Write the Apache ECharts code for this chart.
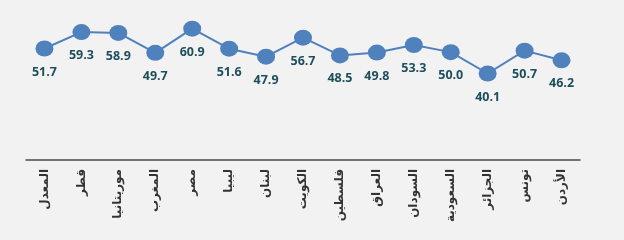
<!DOCTYPE html>
<html><head><meta charset="utf-8">
<script src="https://cdn.jsdelivr.net/npm/echarts@6/dist/echarts.min.js"></script>
<style>html,body{margin:0;padding:0;background:#f2f2f2}#c{width:624px;height:240px}</style>
</head><body><div id="c"></div>
<script>
const categories = ['المعدل','قطر','موريتانيا','المغرب','مصر','ليبيا','لبنان','الكويت','فلسطين','العراق','السودان','السعودية','الجزائر','تونس','الأردن'];
const values = [51.7, 59.3, 58.9, 49.7, 60.9, 51.6, 47.9, 56.7, 48.5, 49.8, 53.3, 50.0, 40.1, 50.7, 46.2];

const chart = echarts.init(document.getElementById('c'));
chart.setOption({
  backgroundColor: '#f2f2f2',
  animation: false,
  grid: { left: 26, right: 44, top: 9, bottom: 80 },
  xAxis: {
    type: 'category',
    data: categories,
    axisLine: { lineStyle: { color: '#4a4a4a', width: 1.5 } },
    axisTick: { show: false },
    axisLabel: { rotate: 90, margin: 9, fontFamily: 'DejaVu Sans', fontWeight: 'bold', fontSize: 12, color: '#333333', interval: 0 }
  },
  yAxis: { type: 'value', min: 0, max: 70, show: false, splitLine: { show: false } },
  series: [{
    type: 'line',
    data: values,
    symbol: 'circle',
    symbolSize: [18, 16],
    itemStyle: { color: '#4f81bd' },
    lineStyle: { color: '#4f81bd', width: 2 },
    label: {
      show: true, position: 'bottom', distance: 9,
      formatter: p => p.value.toFixed(1),
      fontFamily: 'Open Sans', fontWeight: 'bold', fontSize: 12.5, color: '#1e4e5c'
    }
  }]
});
</script></body></html>
